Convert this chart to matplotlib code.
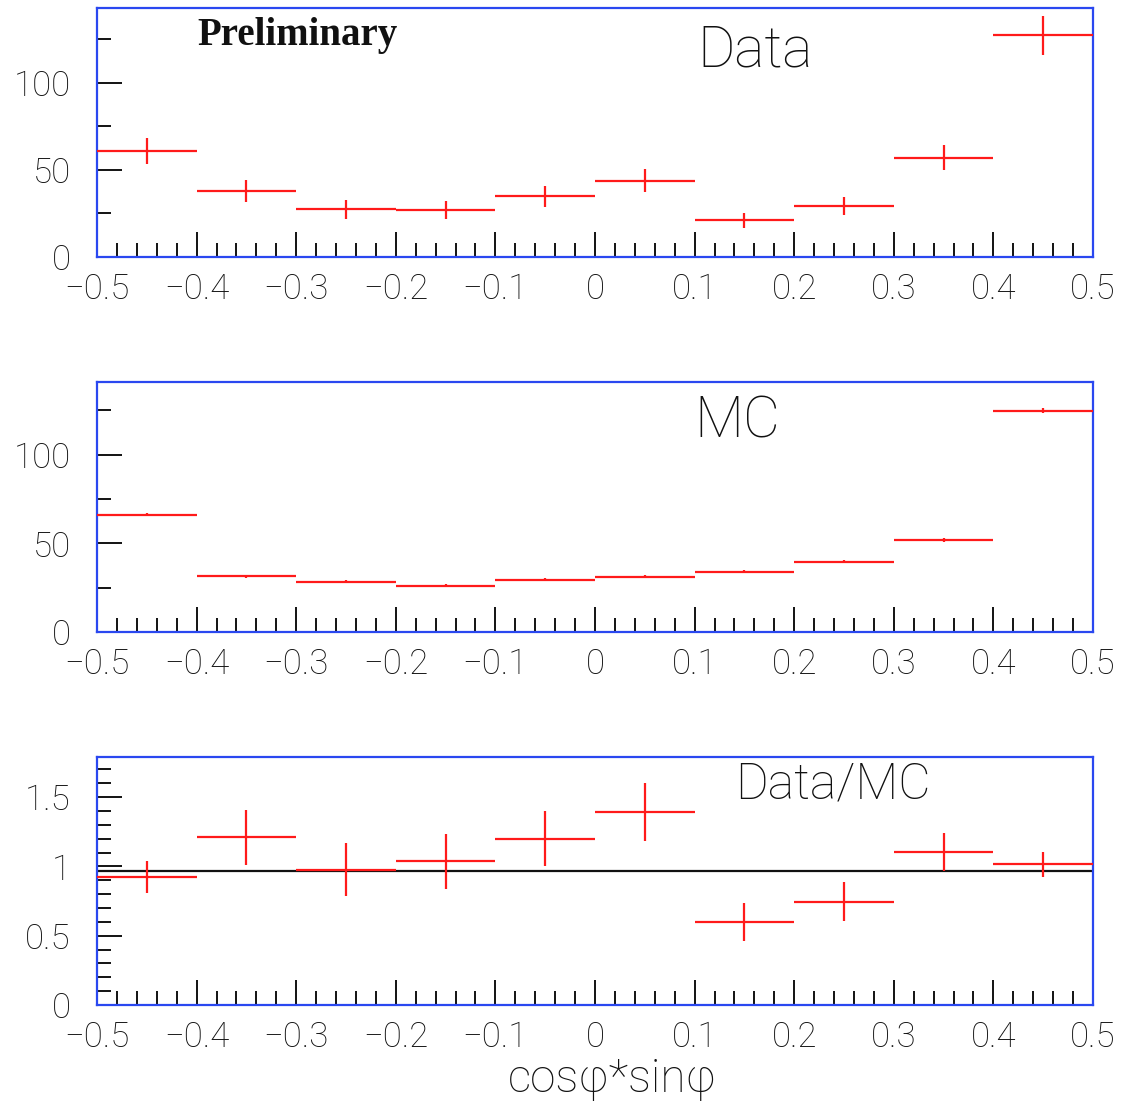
import numpy as np
import matplotlib
matplotlib.use('Agg')
import matplotlib.pyplot as plt
from matplotlib.ticker import MultipleLocator, FixedLocator, FuncFormatter

plt.rcParams['font.family'] = ['Roboto', 'DejaVu Sans']
plt.rcParams['font.weight'] = 'light'

# bins of cos(phi)*sin(phi)
bin_centers = [-0.45, -0.35, -0.25, -0.15, -0.05, 0.05, 0.15, 0.25, 0.35, 0.45]
bin_halfwidth = 0.05

data_counts = [61.0, 38.1, 27.4, 27.0, 34.9, 43.8, 21.0, 29.5, 57.1, 127.4]
data_errors = [7.6, 6.4, 5.4, 5.0, 6.0, 6.6, 4.4, 5.2, 7.3, 11.2]

mc_counts = [66.2, 31.4, 28.4, 26.1, 29.5, 31.2, 34.0, 39.7, 52.1, 124.8]
mc_errors = [1.0, 0.9, 0.8, 0.8, 0.9, 0.9, 0.9, 1.0, 1.1, 1.4]

ratio_values = [0.924, 1.212, 0.976, 1.036, 1.20, 1.393, 0.60, 0.745, 1.105, 1.017]
ratio_errors = [0.115, 0.198, 0.19, 0.20, 0.20, 0.21, 0.135, 0.14, 0.14, 0.09]
ratio_fit = 0.967

x_ticks = [-0.5, -0.4, -0.3, -0.2, -0.1, 0, 0.1, 0.2, 0.3, 0.4, 0.5]
x_ticklabels = ['\u22120.5', '\u22120.4', '\u22120.3', '\u22120.2', '\u22120.1',
                '0', '0.1', '0.2', '0.3', '0.4', '0.5']

frame_color = '#2a48f0'
err_color = '#ff1a1a'
tick_fs = 25

fig = plt.figure(figsize=(11.24, 11.01), dpi=100)
left, width = 97 / 1124, 996 / 1124
ax_data = fig.add_axes([left, 1 - 257 / 1101, width, 249 / 1101])
ax_mc = fig.add_axes([left, 1 - 632 / 1101, width, 250 / 1101])
ax_ratio = fig.add_axes([left, 1 - 1005 / 1101, width, 248 / 1101])


def style_axes(ax, ymax, ymajor, yminor):
    ax.set_xlim(-0.5, 0.5)
    ax.set_ylim(0, ymax)
    for s in ax.spines.values():
        s.set_color(frame_color)
        s.set_linewidth(1.6)
    ax.xaxis.set_major_locator(FixedLocator(x_ticks))
    ax.xaxis.set_minor_locator(MultipleLocator(0.02))
    ax.set_xticklabels(x_ticklabels)
    ax.yaxis.set_major_locator(MultipleLocator(ymajor))
    ax.yaxis.set_minor_locator(MultipleLocator(yminor))
    ax.yaxis.set_major_formatter(FuncFormatter(lambda v, p: f'{v:g}'))
    ax.tick_params(which='both', direction='in', color='black', width=1.3,
                   top=False, right=False, labelsize=tick_fs, labelcolor='#111111')
    ax.tick_params(which='major', length=18)
    ax.tick_params(which='minor', length=10)
    ax.tick_params(axis='x', pad=11)
    ax.tick_params(axis='y', pad=19)


def draw_points(ax, y, yerr):
    ax.errorbar(bin_centers, y, xerr=bin_halfwidth, yerr=yerr, fmt='none',
                ecolor=err_color, elinewidth=1.6, capsize=0, zorder=3)


# Data
style_axes(ax_data, 143, 50, 25)
draw_points(ax_data, data_counts, data_errors)
ax_data.text(0.101, 0.965, 'Preliminary', transform=ax_data.transAxes,
             family='Liberation Serif', weight='bold', fontsize=28,
             ha='left', va='top', color='#111111')
ax_data.text(0.603, 0.765, 'Data', transform=ax_data.transAxes,
             fontsize=41, ha='left', va='baseline', color='#111111')

# MC
style_axes(ax_mc, 141, 50, 25)
draw_points(ax_mc, mc_counts, mc_errors)
ax_mc.text(0.600, 0.776, 'MC', transform=ax_mc.transAxes,
           fontsize=41, ha='left', va='baseline', color='#111111')

# Data/MC
style_axes(ax_ratio, 1.79, 0.5, 0.1)
ax_ratio.axhline(ratio_fit, color='#111111', lw=1.6, zorder=2)
draw_points(ax_ratio, ratio_values, ratio_errors)
ax_ratio.text(0.641, 0.834, 'Data/MC', transform=ax_ratio.transAxes,
              fontsize=36, ha='left', va='baseline', color='#111111')

fig.text(612 / 1124, 1 - 1092 / 1101, 'cos\u03c6*sin\u03c6', fontsize=33,
         ha='center', va='baseline', color='#111111')

fig.savefig('out.png', dpi=100, facecolor='white')
